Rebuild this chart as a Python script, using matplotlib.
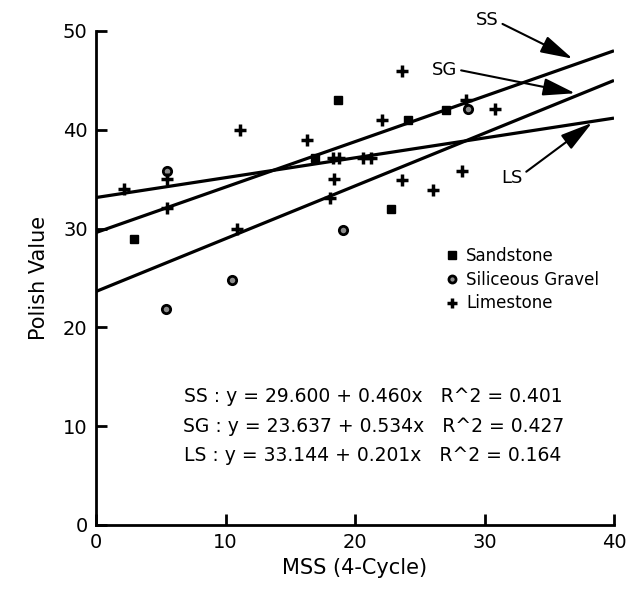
import matplotlib
matplotlib.use("Agg")
import matplotlib.pyplot as plt
import numpy as np

plt.rcParams['font.family'] = ['DejaVu Sans']

# Data
sand_x = [2.9, 16.9, 18.7, 22.8, 24.1, 27.0]
sand_y = [28.9, 37.1, 43.0, 32.0, 41.0, 42.0]

grav_x = [5.5, 5.4, 10.5, 19.1, 28.7]
grav_y = [35.8, 21.9, 24.8, 29.9, 42.1]

lime_x = [2.2, 5.5, 5.5, 11.1, 10.9, 16.3, 18.3, 18.8, 20.6, 21.2, 18.4, 18.1,
          22.1, 23.6, 28.6, 30.8, 23.6, 26.0, 28.3]
lime_y = [34.0, 35.0, 32.1, 40.0, 30.0, 39.0, 37.1, 37.1, 37.1, 37.1, 35.0, 33.1,
          41.0, 46.0, 43.0, 42.1, 34.9, 33.9, 35.8]

fit_names = ["SS", "SG", "LS"]
fit_intercepts = [29.600, 23.637, 33.144]
fit_slopes = [0.460, 0.534, 0.201]
fit_r2 = [0.401, 0.427, 0.164]

x_ticks = [0, 10, 20, 30, 40]
y_ticks = [0, 10, 20, 30, 40, 50]

fig = plt.figure(figsize=(6.42, 5.95), dpi=100)
ax = fig.add_axes([96/642, 1-525/595, 518/642, 494/595])

xs = np.array([0, 40])
for b0, b1 in zip(fit_intercepts, fit_slopes):
    ax.plot(xs, b0 + b1*xs, color='black', lw=2.3, solid_capstyle='butt', zorder=2)

ax.plot(sand_x, sand_y, ls='none', marker='s', ms=6, color='black', label='Sandstone', zorder=3)
ax.plot(grav_x, grav_y, ls='none', marker='o', ms=6, mfc='0.55', mec='black', mew=2.0,
        label='Siliceous Gravel', zorder=3)
ax.plot(lime_x, lime_y, ls='none', marker='+', ms=9, mew=2.5, color='black',
        label='Limestone', zorder=3)

ax.set_xlim(0, 40)
ax.set_ylim(0, 50)
ax.set_xticks(x_ticks)
ax.set_yticks(y_ticks)
ax.tick_params(direction='in', length=8, width=2, labelsize=14, pad=6)
for s in ['top', 'right']:
    ax.spines[s].set_visible(False)
for s in ['left', 'bottom']:
    ax.spines[s].set_linewidth(2)
ax.set_xlabel('MSS (4-Cycle)', fontsize=15, labelpad=4)
ax.set_ylabel('Polish Value', fontsize=15, labelpad=10)

leg = ax.legend(loc='upper left', bbox_to_anchor=(0.66, 0.58), frameon=False,
                fontsize=12, handlelength=0.7, handletextpad=0.5, labelspacing=0.35,
                borderpad=0, markerscale=0.85)

eq_y = [13.0, 10.0, 7.0]
for name, b0, b1, r2, yy in zip(fit_names, fit_intercepts, fit_slopes, fit_r2, eq_y):
    ax.text(21.4, yy, f"{name} : y = {b0:.3f} + {b1:.3f}x   R^2 = {r2:.3f}",
            ha='center', va='center', fontsize=13.5)

arrow = dict(arrowstyle='-|>,head_length=1.1,head_width=0.3', color='black', lw=1.5,
             mutation_scale=18, shrinkA=1, shrinkB=0)
ax.annotate('SS', xy=(36.8, 47.2), xytext=(30.2, 51.1), fontsize=13, ha='center', va='center',
            arrowprops=dict(arrow, relpos=(1, 0.4)), annotation_clip=False)
ax.annotate('SG', xy=(37.0, 43.7), xytext=(26.9, 46.1), fontsize=13, ha='center', va='center',
            arrowprops=dict(arrow, relpos=(1, 0.5)), annotation_clip=False)
ax.annotate('LS', xy=(38.3, 40.7), xytext=(32.1, 35.1), fontsize=13, ha='center', va='center',
            arrowprops=dict(arrow, relpos=(1, 0.7)), annotation_clip=False)

fig.savefig('out.png', dpi=100)
